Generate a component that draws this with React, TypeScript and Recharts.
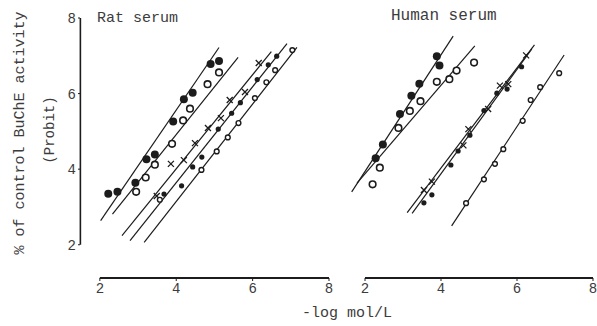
import { ComposedChart, Line, Scatter, XAxis, YAxis, ReferenceLine } from 'recharts';

type Pt = { x: number; y: number };

// Rat serum (x = -log mol/L, y = probit)
const ratFilled: Pt[] = [
  { x: 2.22, y: 3.35 }, { x: 2.46, y: 3.4 }, { x: 2.93, y: 3.64 }, { x: 3.22, y: 4.26 },
  { x: 3.44, y: 4.39 }, { x: 3.92, y: 5.26 }, { x: 4.2, y: 5.85 }, { x: 4.43, y: 6.02 },
  { x: 4.9, y: 6.78 }, { x: 5.12, y: 6.86 },
];
const ratOpen: Pt[] = [
  { x: 2.95, y: 3.4 }, { x: 3.2, y: 3.78 }, { x: 3.44, y: 4.12 }, { x: 3.89, y: 4.67 },
  { x: 4.18, y: 5.29 }, { x: 4.36, y: 5.6 }, { x: 4.82, y: 6.25 }, { x: 5.12, y: 6.56 },
];
const ratCross: Pt[] = [
  { x: 3.49, y: 3.29 }, { x: 3.86, y: 4.14 }, { x: 4.2, y: 4.24 }, { x: 4.49, y: 4.69 },
  { x: 4.83, y: 5.09 }, { x: 5.17, y: 5.35 }, { x: 5.4, y: 5.83 }, { x: 5.8, y: 6.04 },
  { x: 6.16, y: 6.81 },
];
const ratDot: Pt[] = [
  { x: 3.68, y: 3.34 }, { x: 4.14, y: 3.56 }, { x: 4.43, y: 4.06 }, { x: 4.67, y: 4.32 },
  { x: 5.1, y: 5.06 }, { x: 5.45, y: 5.48 }, { x: 5.68, y: 5.76 }, { x: 6.12, y: 6.37 },
  { x: 6.41, y: 6.76 }, { x: 6.63, y: 6.99 },
];
const ratRing: Pt[] = [
  { x: 3.57, y: 3.19 }, { x: 4.66, y: 3.98 }, { x: 5.06, y: 4.47 }, { x: 5.35, y: 4.84 },
  { x: 5.63, y: 5.22 }, { x: 6.06, y: 5.88 }, { x: 6.36, y: 6.3 }, { x: 6.59, y: 6.62 },
  { x: 7.04, y: 7.15 },
];
const ratFits: Pt[][] = [
  [{ x: 2.02, y: 2.64 }, { x: 5.12, y: 7.22 }],
  [{ x: 2.33, y: 2.81 }, { x: 5.62, y: 6.96 }],
  [{ x: 2.58, y: 2.24 }, { x: 6.49, y: 7.11 }],
  [{ x: 2.79, y: 2.11 }, { x: 6.9, y: 7.32 }],
  [{ x: 3.16, y: 2.06 }, { x: 7.16, y: 7.22 }],
];

// Human serum
const humFilled: Pt[] = [
  { x: 2.28, y: 4.29 }, { x: 2.47, y: 4.65 }, { x: 2.92, y: 5.46 }, { x: 3.22, y: 5.94 },
  { x: 3.43, y: 6.26 }, { x: 3.89, y: 6.99 }, { x: 3.96, y: 6.74 },
];
const humOpen: Pt[] = [
  { x: 2.2, y: 3.6 }, { x: 2.39, y: 4.04 }, { x: 2.88, y: 5.09 }, { x: 3.18, y: 5.54 },
  { x: 3.46, y: 5.8 }, { x: 3.89, y: 6.31 }, { x: 4.22, y: 6.38 }, { x: 4.41, y: 6.61 },
  { x: 4.87, y: 6.82 },
];
const humCross: Pt[] = [
  { x: 3.55, y: 3.45 }, { x: 3.76, y: 3.67 }, { x: 4.59, y: 4.63 }, { x: 4.72, y: 5.06 },
  { x: 5.24, y: 5.59 }, { x: 5.55, y: 6.21 }, { x: 5.77, y: 6.25 }, { x: 6.24, y: 7.01 },
];
const humDot: Pt[] = [
  { x: 3.55, y: 3.11 }, { x: 3.76, y: 3.32 }, { x: 4.26, y: 4.11 }, { x: 4.45, y: 4.48 },
  { x: 4.76, y: 4.9 }, { x: 5.13, y: 5.55 }, { x: 5.47, y: 6.01 }, { x: 5.74, y: 6.12 },
  { x: 6.12, y: 6.71 },
];
const humRing: Pt[] = [
  { x: 4.66, y: 3.1 }, { x: 5.13, y: 3.73 }, { x: 5.42, y: 4.14 }, { x: 5.64, y: 4.53 },
  { x: 6.15, y: 5.28 }, { x: 6.36, y: 5.83 }, { x: 6.61, y: 6.17 }, { x: 7.11, y: 6.54 },
];
const humFits: Pt[][] = [
  [{ x: 1.65, y: 3.4 }, { x: 4.32, y: 7.52 }],
  [{ x: 1.79, y: 3.63 }, { x: 4.89, y: 7.26 }],
  [{ x: 3.11, y: 2.85 }, { x: 6.46, y: 7.29 }],
  [{ x: 3.24, y: 2.83 }, { x: 6.39, y: 7.18 }],
  [{ x: 4.28, y: 2.5 }, { x: 7.24, y: 7.02 }],
];

const xTicks = [2, 4, 6, 8];
const yTicks = [2, 4, 6, 8];
const Y_MIN = 1.12;

const INK = '#1c1c1c';
const TEXT = '#3c3c3c';
const FONT = '"Liberation Mono", "DejaVu Sans Mono", monospace';

const BigDot = (p: any) => <circle cx={p.cx} cy={p.cy} r={4} fill={INK} />;
const BigRing = (p: any) => (
  <circle cx={p.cx} cy={p.cy} r={3.3} fill="#fff" stroke={INK} strokeWidth={1.6} />
);
const SmallDot = (p: any) => <circle cx={p.cx} cy={p.cy} r={2.6} fill={INK} />;
const SmallRing = (p: any) => (
  <circle cx={p.cx} cy={p.cy} r={2.4} fill="#fff" stroke={INK} strokeWidth={1.4} />
);
const Cross = (p: any) => (
  <path
    d={`M${p.cx - 3},${p.cy - 3}L${p.cx + 3},${p.cy + 3}M${p.cx + 3},${p.cy - 3}L${p.cx - 3},${p.cy + 3}`}
    stroke={INK}
    strokeWidth={1.3}
  />
);

function Panel({
  fits,
  filled,
  open,
  cross,
  dot,
  ring,
  xMin,
  width,
  showY,
  marginRight,
}: {
  fits: Pt[][];
  filled: Pt[];
  open: Pt[];
  cross: Pt[];
  dot: Pt[];
  ring: Pt[];
  xMin: number;
  width: number;
  showY: boolean;
  marginRight: number;
}) {
  const tickStyle = { fontSize: 14, fill: TEXT, fontFamily: FONT };
  return (
    <ComposedChart
      width={width}
      height={310}
      margin={{ top: 18, right: marginRight, bottom: 0, left: 0 }}
    >
      <XAxis
        type="number"
        dataKey="x"
        domain={[xMin, 8]}
        ticks={xTicks}
        allowDataOverflow
        axisLine={false}
        tickSize={3}
        tickLine={{ stroke: INK }}
        tickMargin={2}
        height={32}
        tick={tickStyle}
      />
      <YAxis
        type="number"
        dataKey="y"
        domain={[Y_MIN, 8]}
        ticks={yTicks}
        allowDataOverflow
        hide={!showY}
        width={80}
        axisLine={false}
        tickSize={2}
        tickLine={{ stroke: INK }}
        tickMargin={2}
        tick={tickStyle}
      />
      <ReferenceLine
        segment={[{ x: 2, y: Y_MIN }, { x: 8, y: Y_MIN }]}
        stroke={INK}
        strokeWidth={1.8}
      />
      {showY && (
        <ReferenceLine
          segment={[{ x: xMin + 0.01, y: 2 }, { x: xMin + 0.01, y: 8 }]}
          stroke={INK}
          strokeWidth={1.6}
        />
      )}
      {fits.map((f, i) => (
        <Line
          key={i}
          data={f}
          dataKey="y"
          stroke={INK}
          strokeWidth={1.2}
          dot={false}
          isAnimationActive={false}
        />
      ))}
      <Scatter data={filled} shape={BigDot} isAnimationActive={false} />
      <Scatter data={open} shape={BigRing} isAnimationActive={false} />
      <Scatter data={cross} shape={Cross} isAnimationActive={false} />
      <Scatter data={dot} shape={SmallDot} isAnimationActive={false} />
      <Scatter data={ring} shape={SmallRing} isAnimationActive={false} />
    </ComposedChart>
  );
}

export default function App() {
  const label = { position: 'absolute' as const, fontFamily: FONT, color: TEXT, whiteSpace: 'nowrap' as const };
  return (
    <div style={{ position: 'absolute', left: 0, top: 0, width: 597, height: 326, background: '#fff', overflow: 'hidden' }}>
      <div style={{ position: 'absolute', left: 0, top: 0 }}>
        <Panel
          fits={ratFits}
          filled={ratFilled}
          open={ratOpen}
          cross={ratCross}
          dot={ratDot}
          ring={ratRing}
          xMin={1.48}
          width={340}
          showY
          marginRight={11}
        />
      </div>
      <div style={{ position: 'absolute', left: 346, top: 0 }}>
        <Panel
          fits={humFits}
          filled={humFilled}
          open={humOpen}
          cross={humCross}
          dot={humDot}
          ring={humRing}
          xMin={1.5}
          width={251}
          showY={false}
          marginRight={4}
        />
      </div>
      <div style={{ ...label, left: 97, top: 10, fontSize: 15 }}>Rat serum</div>
      <div style={{ ...label, left: 391, top: 7, fontSize: 16 }}>Human serum</div>
      <div
        style={{
          ...label,
          left: 20,
          top: 133,
          fontSize: 15,
          transform: 'translate(-50%, -50%) rotate(-90deg)',
        }}
      >
        % of control BuChE activity
      </div>
      <div
        style={{
          ...label,
          left: 50,
          top: 130,
          fontSize: 14,
          transform: 'translate(-50%, -50%) rotate(-90deg)',
        }}
      >
        (Probit)
      </div>
      <div style={{ ...label, left: 347, top: 313, fontSize: 15, transform: 'translate(-50%, -50%)' }}>
        -log mol/L
      </div>
    </div>
  );
}
